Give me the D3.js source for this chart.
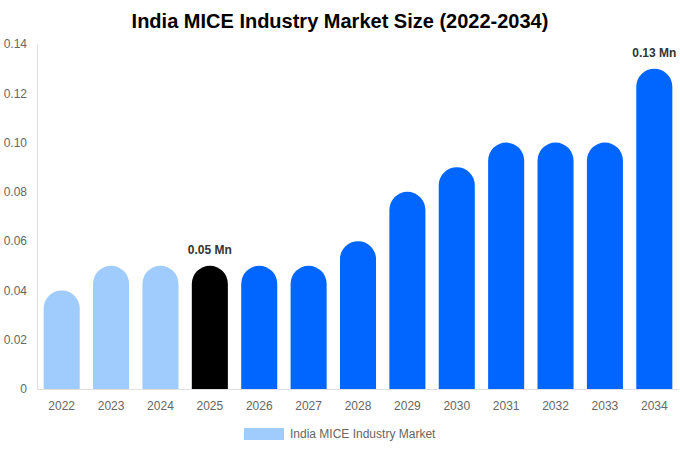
<!DOCTYPE html>
<html>
<head>
<meta charset="utf-8">
<script src="https://cdn.jsdelivr.net/npm/d3@7"></script>
<style>
  body { margin: 0; background: #fff; font-family: "Liberation Sans", Arial, sans-serif; }
</style>
</head>
<body>
<div id="chart"></div>
<script>
const years = ["2022","2023","2024","2025","2026","2027","2028","2029","2030","2031","2032","2033","2034"]
const values = [0.04,0.05,0.05,0.05,0.05,0.05,0.06,0.08,0.09,0.10,0.10,0.10,0.13]
const barColors = ["#a0cbfd","#a0cbfd","#a0cbfd","#000000","#0066ff","#0066ff","#0066ff","#0066ff","#0066ff","#0066ff","#0066ff","#0066ff","#0066ff"]
const yTicks = [0,0.02,0.04,0.06,0.08,0.10,0.12,0.14]
const labels = {"2025": "0.05 Mn", "2034": "0.13 Mn"}

const width = 680, height = 450
const margin = {top: 44, right: 1, bottom: 61, left: 37}

let svg = d3.select("#chart").append("svg")
    .attr("width", width)
    .attr("height", height)

svg.append("text")
    .attr("x", width/2).attr("y", 28)
    .attr("text-anchor", "middle")
    .style("font-size", "20px").style("font-weight", "bold")
    .attr("fill", "#000")
    .text("India MICE Industry Market Size (2022-2034)")

let g = svg.append("g").attr("transform", `translate(${margin.left},${margin.top})`)
const w = width - margin.left - margin.right
const h = height - margin.top - margin.bottom

let x = d3.scaleBand().domain(years).range([0, w]).paddingInner(0.27).paddingOuter(0.135)
let y = d3.scaleLinear().domain([0, 0.14]).range([h, 0])

// axes
let yAxis = g.append("g")
    .call(d3.axisLeft(y).tickValues(yTicks).tickSize(0).tickPadding(10)
        .tickFormat(d => d === 0 ? "0" : d3.format(".2f")(d)))
yAxis.select(".domain").attr("stroke", "#e0e0e0")
yAxis.selectAll("text").attr("fill", "#666").style("font-size", "12px").style("font-family", "Liberation Sans, Arial, sans-serif")

let xAxis = g.append("g").attr("transform", `translate(0,${h})`)
    .call(d3.axisBottom(x).tickSize(0).tickPadding(12))
xAxis.select(".domain").attr("stroke", "#e0e0e0")
xAxis.selectAll("text").attr("fill", "#666").style("font-size", "12px").style("font-family", "Liberation Sans, Arial, sans-serif")

// bars with rounded tops
const bw = x.bandwidth()
const r = bw / 2
g.selectAll("path.bar").data(years).enter()
    .append("path")
    .attr("class", "bar")
    .attr("fill", (d, i) => barColors[i])
    .attr("d", (d, i) => {
        const x0 = x(d), y0 = y(values[i]), yb = y(0)
        return `M${x0},${yb} L${x0},${y0 + r} A${r},${r} 0 0 1 ${x0 + bw},${y0 + r} L${x0 + bw},${yb} Z`
    })

g.selectAll("text.val").data(years.filter(d => labels[d])).enter()
    .append("text")
    .attr("class", "val")
    .attr("x", d => x(d) + bw/2)
    .attr("y", d => y(values[years.indexOf(d)]) - 12)
    .attr("text-anchor", "middle")
    .style("font-size", "12px").style("font-weight", "bold")
    .attr("fill", "#333")
    .text(d => labels[d])

// legend
let legend = svg.append("g").attr("transform", "translate(244,428)")
legend.append("rect").attr("width", 40).attr("height", 12).attr("fill", "#a0cbfd")
legend.append("text").attr("x", 46).attr("y", 10)
    .style("font-size", "12px").attr("fill", "#666")
    .text("India MICE Industry Market")
</script>
</body>
</html>
